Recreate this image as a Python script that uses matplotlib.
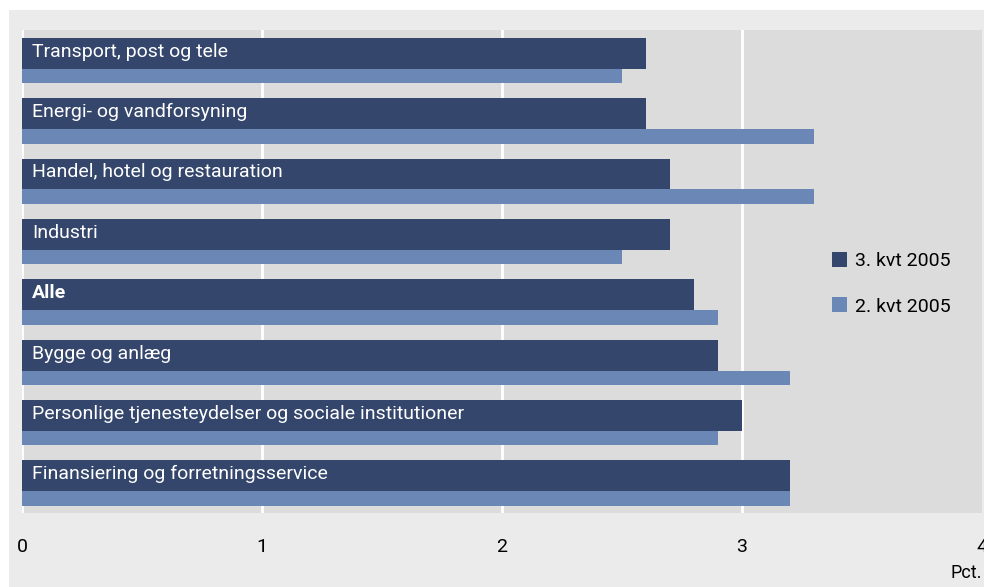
import numpy as np
import matplotlib.pyplot as plt
from matplotlib.patches import Rectangle

categories = ['Transport, post og tele', 'Energi- og vandforsyning',
              'Handel, hotel og restauration', 'Industri', 'Alle',
              'Bygge og anlæg',
              'Personlige tjenesteydelser og sociale institutioner',
              'Finansiering og forretningsservice']
q3_2005 = [2.6, 2.6, 2.7, 2.7, 2.8, 2.9, 3.0, 3.2]
q2_2005 = [2.5, 3.3, 3.3, 2.5, 2.9, 3.2, 2.9, 3.2]
series_names = ['3. kvt 2005', '2. kvt 2005']
xticks = [0, 1, 2, 3, 4]

dark = '#34466b'
light = '#6b87b5'
plt.rcParams['font.family'] = ['Roboto', 'DejaVu Sans']

fig = plt.figure(figsize=(9.84, 5.87), dpi=100, facecolor='white')
# outer grey panel, behind the axes
fig.patches.append(Rectangle((9 / 984, 0), 1, 1 - 10 / 587,
                             transform=fig.transFigure, facecolor='#ebebeb',
                             edgecolor='none', zorder=-5))

ax = fig.add_axes([22 / 984, 1 - 513 / 587, 960 / 984, 483 / 587])
ax.set_facecolor('#dcdcdc')
y = np.arange(len(categories))

ax.barh(y - 0.115, q3_2005, height=0.51, color=dark, zorder=3,
        label=series_names[0])
ax.barh(y + 0.26, q2_2005, height=0.24, color=light, zorder=2,
        label=series_names[1])

for i, name in enumerate(categories):
    ax.text(0.042, i - 0.14, name, color='white', va='center', ha='left',
            fontsize=14, fontweight='bold' if name == 'Alle' else 'normal',
            zorder=4)

ax.set_xlim(0, 4)
ax.set_ylim(7.5, -0.5)
ax.set_xticks(xticks)
ax.set_xticklabels([str(t) for t in xticks], fontsize=14)
ax.set_yticks([])
ax.tick_params(axis='x', length=0, pad=18)
ax.grid(axis='x', color='white', linewidth=2, zorder=1)
ax.get_xgridlines()[-1].set_visible(False)
ax.set_axisbelow(True)
for s in ax.spines.values():
    s.set_visible(False)

ax.text(1.0, -0.125, 'Pct.', transform=ax.transAxes, ha='right', va='center',
        fontsize=13)

leg = ax.legend(loc='upper left', bbox_to_anchor=(0.825, 0.576), frameon=False,
                fontsize=14, handlelength=0.8, handleheight=0.8,
                handletextpad=0.4, labelspacing=1.38)

fig.savefig('out.png', dpi=100, facecolor=fig.get_facecolor())
